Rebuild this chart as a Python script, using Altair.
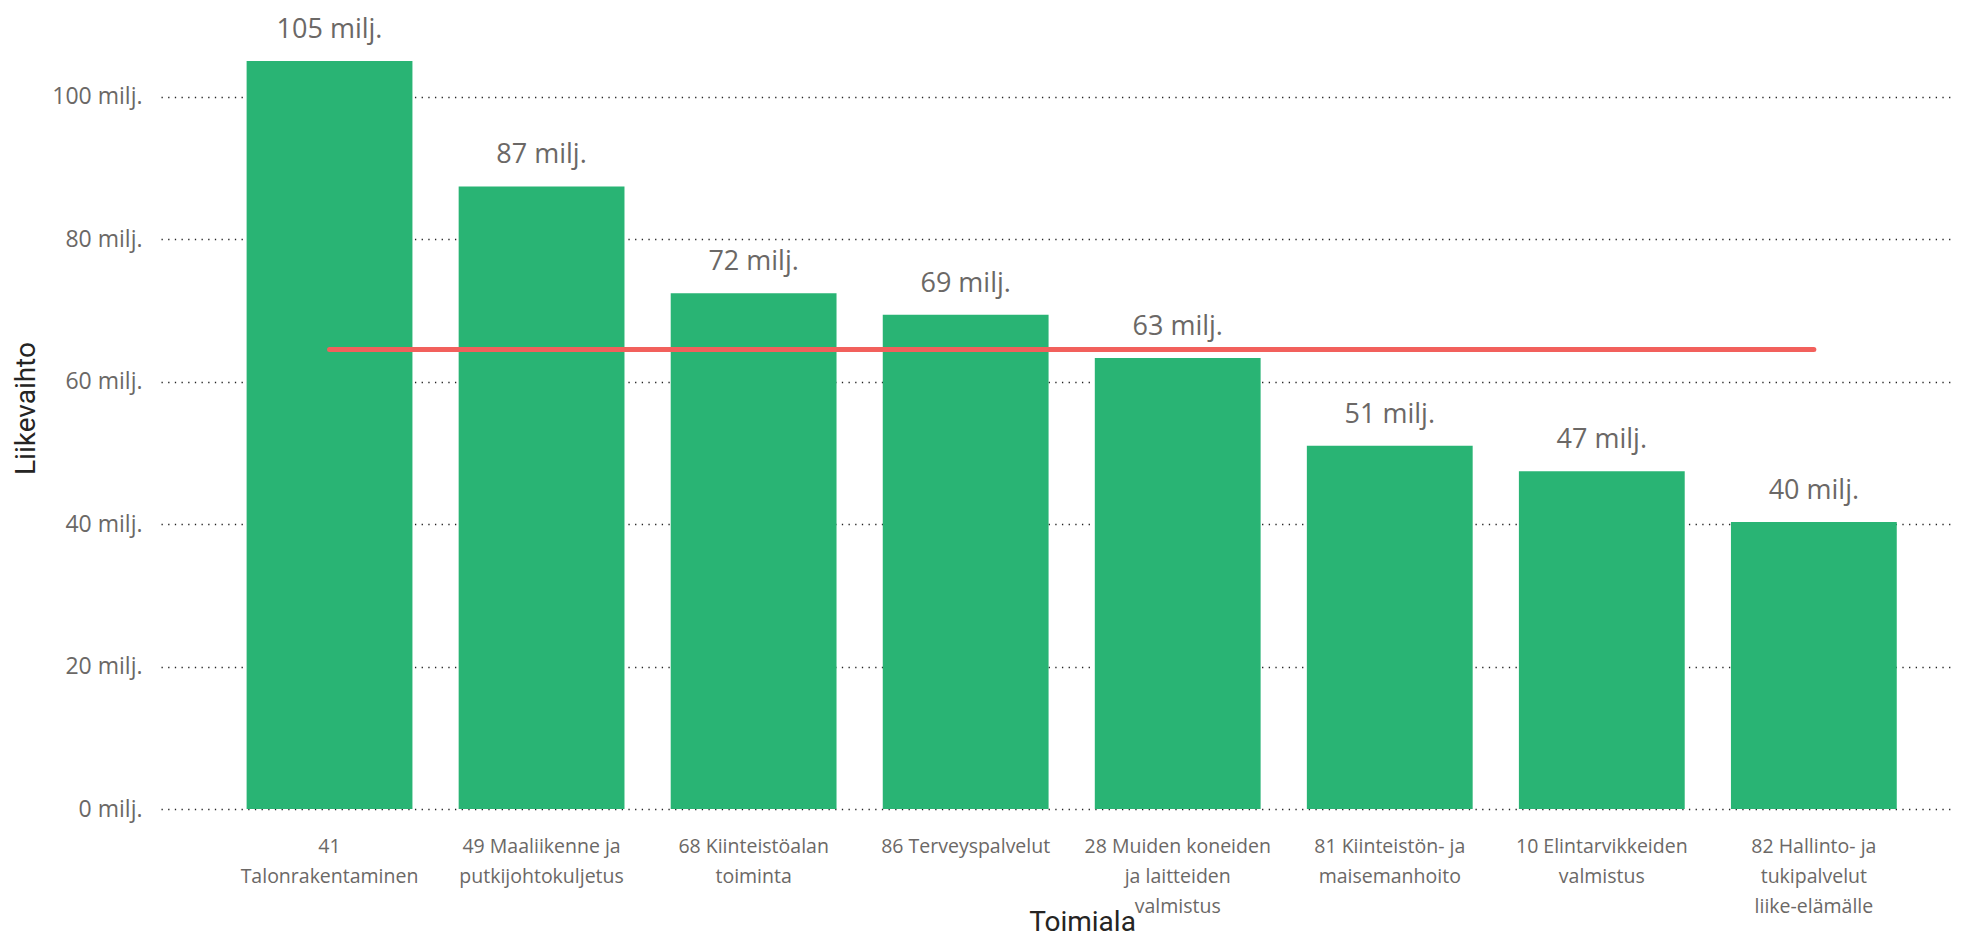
import altair as alt
import pandas as pd

# Category names (with "|" marking line breaks of the axis tick labels)
categories = [
    "41|Talonrakentaminen",
    "49 Maaliikenne ja|putkijohtokuljetus",
    "68 Kiinteistöalan|toiminta",
    "86 Terveyspalvelut",
    "28 Muiden koneiden|ja laitteiden|valmistus",
    "81 Kiinteistön- ja|maisemanhoito",
    "10 Elintarvikkeiden|valmistus",
    "82 Hallinto- ja|tukipalvelut|liike-elämälle",
]
# Liikevaihto in millions of euros
values = [105.0, 87.4, 72.4, 69.4, 63.3, 51.0, 47.4, 40.3]
# Average line value (millions)
average = [64.5] * len(categories)
y_ticks = [0, 20, 40, 60, 80, 100]

df = pd.DataFrame({"Toimiala": categories, "Liikevaihto": values, "Keskiarvo": average})

BAR = "#29B474"
LINE = "#F2605C"
LABEL = "#6B6866"
TITLE = "#252423"
FONT = "Open Sans"
TFONT = "Roboto"

x_enc = alt.X(
    "Toimiala:N",
    sort=categories,
    scale=alt.Scale(paddingInner=0.218, paddingOuter=0.3274, align=0.6166),
    axis=alt.Axis(
        title="Toimiala",
        labelExpr="split(datum.label, '|')",
        labelAngle=0,
        labelFont=FONT,
        labelFontSize=19.5,
        labelColor=LABEL,
        labelLineHeight=30,
        labelPadding=28,
        labelBaseline="top",
        labelLimit=400,
        ticks=False,
        tickSize=0,
        domain=False,
        titleFont=TFONT,
        titleFontSize=28,
        titleFontWeight="normal",
        titleColor=TITLE,
        titleX=921,
        titleY=121,
        titleBaseline="alphabetic",
        titleAlign="center",
        grid=False,
    ),
)

y_scale = alt.Scale(domain=[0, 112.45], nice=False, zero=True)

bars = alt.Chart(df).mark_bar(color=BAR).encode(
    x=x_enc,
    y=alt.Y(
        "Liikevaihto:Q",
        scale=y_scale,
        axis=alt.Axis(
            title="Liikevaihto",
            values=y_ticks,
            labelExpr="format(datum.value, 'd') + ' milj.'",
            labelFont=FONT,
            labelFontSize=23,
            labelColor=LABEL,
            labelPadding=19,
            ticks=False,
            tickSize=0,
            domain=False,
            grid=True,
            gridColor="#222222",
            gridDash=[1.3, 5.37],
            gridWidth=1.4,
            titleFont=TFONT,
            titleFontSize=28,
            titleFontWeight="normal",
            titleColor=TITLE,
            titleAngle=-90,
            titleX=-135,
            titleY=400,
            titleAlign="center",
            titleBaseline="middle",
        ),
    ),
)

text = alt.Chart(df).transform_calculate(
    lbl="format(datum.Liikevaihto, '.0f') + ' milj.'"
).mark_text(
    font=FONT, fontSize=27, color=LABEL, baseline="alphabetic", align="center", dy=-23
).encode(
    x=alt.X("Toimiala:N", sort=categories),
    y=alt.Y("Liikevaihto:Q", scale=y_scale),
    text="lbl:N",
)

avg_line = alt.Chart(df).mark_line(color=LINE, strokeWidth=5, strokeCap="round").encode(
    x=alt.X("Toimiala:N", sort=categories),
    y=alt.Y("Keskiarvo:Q", scale=y_scale),
)

chart = alt.layer(bars, text, avg_line).properties(
    width=1789,
    height=801,
    background="white",
    autosize=alt.AutoSizeParams(type="none"),
    padding={"left": 153, "top": 0, "right": 5, "bottom": 128},
).configure_view(stroke=None, strokeWidth=0)

chart.save("out.html", embed_options={"renderer": "svg", "actions": False})
